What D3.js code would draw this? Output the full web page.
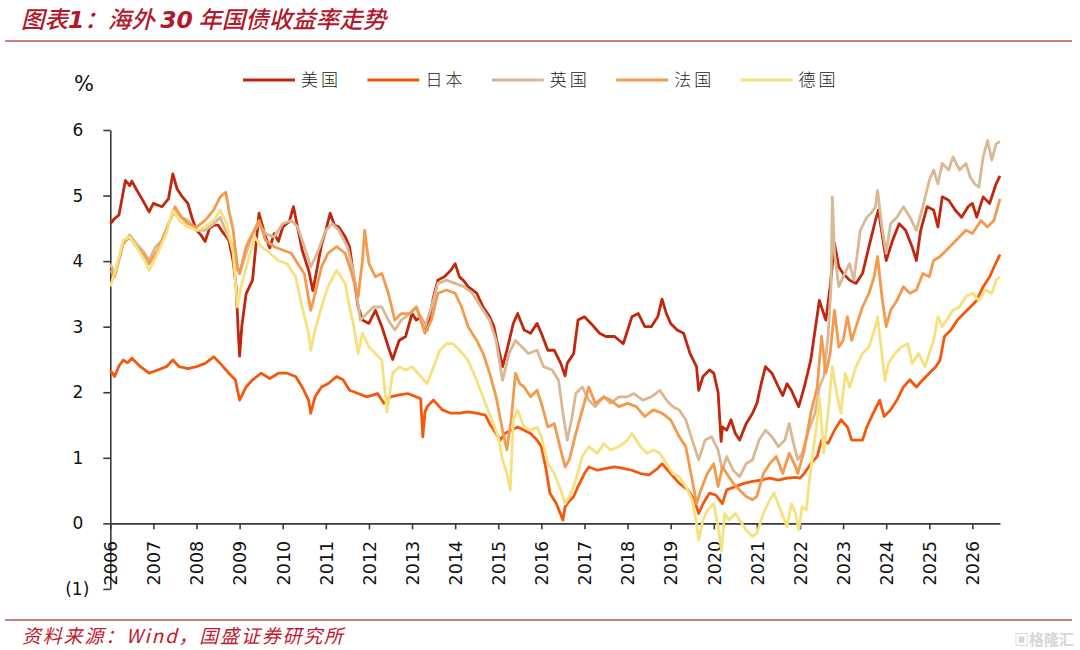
<!DOCTYPE html>
<html>
<head>
<meta charset="utf-8">
<script src="https://cdn.jsdelivr.net/npm/d3@7"></script>
<style>
  body { margin: 0; background: #fff; }
  svg { display: block; }
</style>
</head>
<body>
<script>
// series names and colours, in drawing order
var seriesNames = ["美国", "日本", "英国", "法国", "德国"];
var seriesColors = ["#c1270f", "#f4580d", "#d9b894", "#f39a4d", "#f6e17f"];

// year ticks and y ticks
var yearTicks = d3.range(2006, 2027);
var yTicks = [-1, 0, 1, 2, 3, 4, 5, 6];

// 30y yields, [decimal year, %]
var usYield = [[2006.0,4.57],[2006.1,4.65],[2006.2,4.7],[2006.35,5.23],[2006.45,5.15],[2006.5,5.22],[2006.6,5.1],[2006.75,4.93],[2006.9,4.75],[2007.0,4.88],[2007.2,4.83],[2007.35,4.95],[2007.45,5.33],[2007.55,5.1],[2007.65,5.0],[2007.8,4.88],[2007.9,4.65],[2008.0,4.47],[2008.1,4.4],[2008.2,4.3],[2008.3,4.5],[2008.4,4.55],[2008.5,4.55],[2008.6,4.45],[2008.75,4.32],[2008.85,4.0],[2008.92,3.6],[2008.97,2.9],[2009.0,2.55],[2009.05,3.0],[2009.15,3.5],[2009.3,3.71],[2009.45,4.73],[2009.6,4.37],[2009.7,4.2],[2009.8,4.42],[2009.9,4.3],[2010.0,4.52],[2010.15,4.6],[2010.25,4.83],[2010.35,4.5],[2010.45,4.17],[2010.6,3.86],[2010.7,3.55],[2010.8,3.9],[2010.9,4.25],[2011.0,4.47],[2011.1,4.73],[2011.2,4.55],[2011.3,4.52],[2011.45,4.37],[2011.55,4.22],[2011.65,3.76],[2011.75,3.3],[2011.85,3.1],[2012.0,3.05],[2012.15,3.25],[2012.3,3.0],[2012.45,2.69],[2012.55,2.5],[2012.7,2.79],[2012.85,2.85],[2013.0,3.2],[2013.1,3.1],[2013.2,3.15],[2013.35,2.95],[2013.5,3.46],[2013.6,3.71],[2013.75,3.76],[2013.9,3.86],[2014.0,3.96],[2014.1,3.76],[2014.2,3.7],[2014.3,3.61],[2014.5,3.51],[2014.65,3.3],[2014.8,3.15],[2014.9,3.0],[2015.0,2.69],[2015.1,2.39],[2015.2,2.64],[2015.35,3.05],[2015.45,3.2],[2015.6,2.95],[2015.75,2.9],[2015.9,3.05],[2016.0,2.9],[2016.15,2.64],[2016.3,2.64],[2016.45,2.44],[2016.55,2.25],[2016.6,2.44],[2016.75,2.59],[2016.85,3.1],[2017.0,3.15],[2017.15,3.05],[2017.35,2.9],[2017.5,2.85],[2017.7,2.85],[2017.9,2.74],[2018.1,3.15],[2018.25,3.2],[2018.4,3.0],[2018.55,3.0],[2018.7,3.15],[2018.8,3.42],[2018.9,3.2],[2019.0,3.05],[2019.15,2.95],[2019.3,2.9],[2019.45,2.59],[2019.6,2.39],[2019.65,2.03],[2019.75,2.24],[2019.9,2.34],[2020.0,2.29],[2020.1,2.0],[2020.17,1.25],[2020.2,1.47],[2020.3,1.42],[2020.4,1.58],[2020.5,1.37],[2020.6,1.27],[2020.75,1.52],[2020.9,1.68],[2021.0,1.83],[2021.1,2.13],[2021.2,2.39],[2021.35,2.29],[2021.5,2.08],[2021.6,1.95],[2021.7,2.13],[2021.8,2.03],[2021.9,1.88],[2021.97,1.78],[2022.1,2.08],[2022.25,2.49],[2022.35,2.95],[2022.45,3.4],[2022.6,3.1],[2022.7,3.61],[2022.8,4.27],[2022.9,3.91],[2023.0,3.81],[2023.15,3.71],[2023.3,3.66],[2023.45,3.81],[2023.6,4.22],[2023.75,4.62],[2023.82,4.78],[2023.95,4.22],[2024.0,4.01],[2024.15,4.32],[2024.3,4.57],[2024.45,4.47],[2024.6,4.22],[2024.7,4.01],[2024.8,4.47],[2024.95,4.83],[2025.1,4.78],[2025.2,4.52],[2025.3,4.98],[2025.45,4.93],[2025.6,4.78],[2025.75,4.67],[2025.9,4.83],[2026.0,4.88],[2026.1,4.67],[2026.25,4.98],[2026.4,4.88],[2026.55,5.18],[2026.64,5.3]];

var jpYield = [[2006.0,2.34],[2006.1,2.24],[2006.2,2.4],[2006.3,2.49],[2006.4,2.45],[2006.5,2.52],[2006.7,2.39],[2006.9,2.29],[2007.1,2.34],[2007.3,2.39],[2007.45,2.49],[2007.6,2.39],[2007.8,2.36],[2008.0,2.39],[2008.2,2.44],[2008.4,2.54],[2008.55,2.44],[2008.75,2.29],[2008.9,2.19],[2009.0,1.88],[2009.15,2.08],[2009.3,2.19],[2009.5,2.29],[2009.7,2.21],[2009.9,2.29],[2010.1,2.29],[2010.3,2.24],[2010.45,2.08],[2010.6,1.88],[2010.65,1.68],[2010.75,1.93],[2010.9,2.08],[2011.05,2.13],[2011.25,2.24],[2011.4,2.19],[2011.55,2.03],[2011.75,1.98],[2011.95,1.93],[2012.2,1.98],[2012.35,1.83],[2012.5,1.93],[2012.7,1.96],[2012.9,1.98],[2013.1,1.93],[2013.2,1.9],[2013.25,1.32],[2013.3,1.7],[2013.35,1.78],[2013.5,1.88],[2013.7,1.73],[2013.9,1.68],[2014.1,1.68],[2014.3,1.7],[2014.5,1.68],[2014.7,1.65],[2014.8,1.52],[2014.95,1.37],[2015.05,1.27],[2015.15,1.37],[2015.3,1.42],[2015.45,1.47],[2015.6,1.42],[2015.75,1.37],[2015.9,1.27],[2016.0,1.17],[2016.1,0.86],[2016.2,0.46],[2016.35,0.3],[2016.5,0.05],[2016.55,0.25],[2016.6,0.3],[2016.75,0.41],[2016.85,0.56],[2017.0,0.76],[2017.1,0.86],[2017.3,0.81],[2017.5,0.84],[2017.7,0.86],[2017.9,0.84],[2018.1,0.81],[2018.3,0.76],[2018.5,0.74],[2018.7,0.84],[2018.8,0.91],[2019.0,0.76],[2019.2,0.61],[2019.4,0.51],[2019.55,0.36],[2019.65,0.15],[2019.75,0.3],[2019.9,0.46],[2020.05,0.43],[2020.2,0.3],[2020.3,0.51],[2020.5,0.56],[2020.7,0.61],[2020.9,0.64],[2021.1,0.66],[2021.3,0.69],[2021.5,0.66],[2021.7,0.69],[2021.9,0.7],[2022.0,0.69],[2022.1,0.76],[2022.25,0.91],[2022.4,1.02],[2022.5,1.27],[2022.65,1.22],[2022.8,1.42],[2022.95,1.58],[2023.1,1.47],[2023.2,1.27],[2023.35,1.27],[2023.45,1.27],[2023.55,1.47],[2023.7,1.68],[2023.85,1.88],[2023.95,1.63],[2024.1,1.73],[2024.25,1.88],[2024.4,2.08],[2024.55,2.19],[2024.7,2.08],[2024.85,2.19],[2025.0,2.29],[2025.15,2.39],[2025.25,2.49],[2025.35,2.85],[2025.5,2.95],[2025.65,3.1],[2025.8,3.2],[2025.95,3.3],[2026.1,3.4],[2026.25,3.61],[2026.4,3.76],[2026.5,3.91],[2026.64,4.1]];

var ukYield = [[2006.0,3.96],[2006.1,3.81],[2006.3,4.27],[2006.45,4.4],[2006.6,4.27],[2006.8,4.12],[2006.9,4.01],[2007.05,4.22],[2007.2,4.32],[2007.35,4.57],[2007.5,4.78],[2007.65,4.67],[2007.8,4.62],[2008.0,4.47],[2008.2,4.47],[2008.4,4.57],[2008.55,4.67],[2008.7,4.42],[2008.85,4.22],[2008.95,3.86],[2009.0,3.81],[2009.15,4.12],[2009.3,4.42],[2009.45,4.57],[2009.6,4.42],[2009.8,4.37],[2010.0,4.57],[2010.2,4.62],[2010.35,4.52],[2010.5,4.22],[2010.65,3.91],[2010.8,4.12],[2011.0,4.47],[2011.15,4.57],[2011.3,4.47],[2011.5,4.22],[2011.65,3.81],[2011.8,3.1],[2011.95,3.2],[2012.1,3.3],[2012.3,3.3],[2012.45,3.1],[2012.6,2.95],[2012.75,3.1],[2012.95,3.2],[2013.1,3.3],[2013.3,3.0],[2013.45,3.3],[2013.6,3.66],[2013.8,3.71],[2014.0,3.66],[2014.2,3.61],[2014.4,3.51],[2014.6,3.3],[2014.8,3.1],[2014.95,2.79],[2015.1,2.18],[2015.25,2.59],[2015.4,2.79],[2015.55,2.69],[2015.7,2.59],[2015.9,2.64],[2016.05,2.39],[2016.25,2.34],[2016.4,2.18],[2016.5,1.68],[2016.6,1.27],[2016.7,1.58],[2016.8,1.98],[2016.95,2.08],[2017.1,1.88],[2017.25,1.78],[2017.45,1.93],[2017.6,1.83],[2017.8,1.93],[2018.0,1.93],[2018.15,1.98],[2018.35,1.88],[2018.55,1.93],[2018.75,2.03],[2018.9,1.88],[2019.05,1.78],[2019.2,1.73],[2019.35,1.58],[2019.5,1.27],[2019.65,0.97],[2019.8,1.27],[2019.95,1.32],[2020.1,1.12],[2020.2,0.81],[2020.3,1.02],[2020.45,0.81],[2020.6,0.71],[2020.75,0.91],[2020.9,0.97],[2021.05,1.27],[2021.2,1.42],[2021.35,1.32],[2021.5,1.17],[2021.65,1.27],[2021.75,1.52],[2021.85,1.22],[2021.95,0.97],[2022.05,1.07],[2022.2,1.42],[2022.35,1.68],[2022.45,2.08],[2022.55,2.24],[2022.65,2.85],[2022.72,3.61],[2022.75,4.98],[2022.8,4.12],[2022.9,3.61],[2023.0,3.76],[2023.15,3.96],[2023.25,3.71],[2023.4,4.47],[2023.55,4.67],[2023.65,4.73],[2023.75,4.83],[2023.8,5.08],[2023.9,4.52],[2024.0,4.12],[2024.1,4.57],[2024.25,4.67],[2024.4,4.83],[2024.55,4.67],[2024.7,4.47],[2024.85,4.83],[2025.0,5.23],[2025.1,5.39],[2025.2,5.18],[2025.3,5.49],[2025.45,5.39],[2025.55,5.59],[2025.7,5.39],[2025.85,5.49],[2025.95,5.28],[2026.05,5.18],[2026.15,5.13],[2026.25,5.59],[2026.35,5.84],[2026.45,5.54],[2026.55,5.79],[2026.64,5.82]];

var frYield = [[2006.0,3.86],[2006.1,3.76],[2006.3,4.27],[2006.45,4.37],[2006.6,4.22],[2006.8,4.07],[2006.9,3.96],[2007.1,4.17],[2007.3,4.47],[2007.5,4.83],[2007.65,4.67],[2007.8,4.57],[2008.0,4.52],[2008.2,4.62],[2008.4,4.78],[2008.55,4.98],[2008.68,5.05],[2008.75,4.78],[2008.85,4.47],[2008.95,3.91],[2009.0,3.81],[2009.15,4.22],[2009.3,4.42],[2009.45,4.62],[2009.6,4.32],[2009.8,4.22],[2010.0,4.17],[2010.2,4.12],[2010.35,3.96],[2010.5,3.81],[2010.65,3.25],[2010.75,3.5],[2010.9,3.91],[2011.05,4.12],[2011.25,4.22],[2011.45,4.12],[2011.6,3.81],[2011.75,3.46],[2011.85,4.01],[2011.9,4.47],[2012.0,3.96],[2012.15,3.76],[2012.3,3.81],[2012.45,3.51],[2012.6,3.1],[2012.75,3.2],[2012.95,3.2],[2013.1,3.3],[2013.3,2.9],[2013.45,3.1],[2013.6,3.51],[2013.8,3.56],[2014.0,3.51],[2014.15,3.3],[2014.3,3.0],[2014.5,2.79],[2014.65,2.59],[2014.8,2.29],[2014.95,1.93],[2015.1,1.42],[2015.2,1.12],[2015.3,1.58],[2015.4,2.29],[2015.5,2.13],[2015.6,2.08],[2015.75,1.93],[2015.9,2.03],[2016.0,1.83],[2016.15,1.47],[2016.3,1.52],[2016.45,1.12],[2016.55,0.86],[2016.65,0.97],[2016.8,1.37],[2016.95,1.73],[2017.1,2.08],[2017.25,1.83],[2017.45,1.93],[2017.6,1.88],[2017.8,1.78],[2018.0,1.83],[2018.2,1.78],[2018.4,1.63],[2018.6,1.73],[2018.8,1.68],[2019.0,1.58],[2019.2,1.32],[2019.35,1.17],[2019.5,0.66],[2019.6,0.3],[2019.7,0.51],[2019.85,0.76],[2020.0,0.91],[2020.1,0.56],[2020.2,0.86],[2020.3,0.76],[2020.45,0.61],[2020.6,0.51],[2020.75,0.41],[2020.9,0.36],[2021.0,0.41],[2021.15,0.76],[2021.3,0.91],[2021.45,1.02],[2021.6,0.76],[2021.75,1.07],[2021.9,0.86],[2021.95,0.76],[2022.1,1.12],[2022.25,1.68],[2022.4,2.08],[2022.5,2.85],[2022.6,2.29],[2022.7,2.59],[2022.8,3.25],[2022.9,2.69],[2023.0,2.79],[2023.1,3.15],[2023.2,2.79],[2023.3,3.0],[2023.45,3.3],[2023.6,3.51],[2023.72,3.76],[2023.8,4.07],[2023.9,3.46],[2024.0,3.0],[2024.1,3.25],[2024.25,3.4],[2024.4,3.61],[2024.55,3.51],[2024.7,3.56],[2024.85,3.81],[2025.0,3.76],[2025.1,4.01],[2025.25,4.07],[2025.4,4.17],[2025.55,4.27],[2025.7,4.37],[2025.85,4.47],[2026.0,4.42],[2026.1,4.52],[2026.2,4.62],[2026.35,4.52],[2026.5,4.62],[2026.64,4.95]];

var deYield = [[2006.0,3.61],[2006.1,3.81],[2006.3,4.32],[2006.45,4.37],[2006.6,4.22],[2006.8,4.01],[2006.9,3.86],[2007.1,4.12],[2007.3,4.42],[2007.45,4.78],[2007.6,4.62],[2007.8,4.52],[2008.0,4.47],[2008.2,4.52],[2008.4,4.62],[2008.55,4.78],[2008.7,4.57],[2008.85,4.12],[2008.95,3.3],[2009.05,3.66],[2009.2,4.01],[2009.35,4.37],[2009.5,4.22],[2009.7,4.12],[2009.9,4.01],[2010.1,3.96],[2010.3,3.76],[2010.45,3.3],[2010.6,2.9],[2010.65,2.64],[2010.75,2.95],[2010.9,3.3],[2011.05,3.61],[2011.25,3.86],[2011.45,3.66],[2011.55,3.3],[2011.65,3.0],[2011.75,2.59],[2011.85,2.9],[2012.0,2.69],[2012.15,2.59],[2012.3,2.49],[2012.42,1.7],[2012.55,2.29],[2012.7,2.39],[2012.85,2.34],[2013.0,2.39],[2013.2,2.24],[2013.35,2.13],[2013.5,2.39],[2013.65,2.64],[2013.8,2.74],[2013.95,2.74],[2014.1,2.64],[2014.3,2.49],[2014.5,2.18],[2014.7,1.83],[2014.85,1.58],[2015.0,1.32],[2015.1,0.97],[2015.2,0.76],[2015.28,0.51],[2015.35,1.58],[2015.45,1.73],[2015.6,1.47],[2015.75,1.42],[2015.9,1.47],[2016.0,1.32],[2016.15,0.91],[2016.3,0.76],[2016.45,0.51],[2016.55,0.3],[2016.65,0.41],[2016.8,0.66],[2016.95,1.02],[2017.1,1.17],[2017.3,1.07],[2017.45,1.22],[2017.6,1.12],[2017.8,1.17],[2018.0,1.27],[2018.1,1.37],[2018.3,1.17],[2018.45,1.07],[2018.6,1.12],[2018.75,1.07],[2018.9,0.91],[2019.05,0.76],[2019.2,0.71],[2019.35,0.56],[2019.5,0.36],[2019.6,0.0],[2019.65,-0.25],[2019.75,0.05],[2019.85,0.2],[2020.0,0.3],[2020.1,-0.05],[2020.18,-0.42],[2020.25,0.15],[2020.35,0.05],[2020.5,0.15],[2020.6,0.05],[2020.75,-0.1],[2020.9,-0.2],[2021.0,-0.15],[2021.15,0.15],[2021.3,0.36],[2021.4,0.46],[2021.55,0.2],[2021.7,-0.05],[2021.8,0.3],[2021.9,0.15],[2021.97,-0.1],[2022.05,0.25],[2022.15,0.2],[2022.2,0.56],[2022.3,1.07],[2022.4,1.58],[2022.45,1.93],[2022.55,1.07],[2022.65,1.68],[2022.75,2.39],[2022.85,1.98],[2022.95,1.68],[2023.05,2.29],[2023.15,2.08],[2023.3,2.39],[2023.45,2.59],[2023.6,2.69],[2023.75,3.0],[2023.8,3.15],[2023.9,2.59],[2023.97,2.18],[2024.05,2.44],[2024.2,2.59],[2024.35,2.69],[2024.5,2.74],[2024.6,2.44],[2024.75,2.59],[2024.9,2.39],[2025.0,2.59],[2025.1,2.79],[2025.2,3.15],[2025.3,3.0],[2025.4,3.1],[2025.55,3.25],[2025.7,3.3],[2025.85,3.46],[2026.0,3.51],[2026.15,3.4],[2026.3,3.56],[2026.45,3.51],[2026.55,3.71],[2026.64,3.76]];

var allSeries = [usYield, jpYield, ukYield, frYield, deYield];

// canvas
var width = 1080, height = 650;
var svg = d3.select("body").append("svg").attr("width", width).attr("height", height);
svg.append("rect").attr("width", width).attr("height", height).attr("fill", "#fff");

// title + rule (digits set in a latin bold face, like the original)
var title = svg.append("text").attr("x", 21).attr("y", 28)
    .attr("font-family", "'Noto Sans CJK SC', sans-serif")
    .attr("font-size", 23.5).attr("font-style", "italic").attr("font-weight", 500)
    .attr("fill", "#b3172c");
title.append("tspan").text("图表");
title.append("tspan").attr("font-family", "'DejaVu Sans', Verdana, sans-serif")
    .attr("font-weight", "bold").text("1");
title.append("tspan").text("：海外 ");
title.append("tspan").attr("font-family", "'DejaVu Sans', Verdana, sans-serif")
    .attr("font-weight", "bold").text("30");
title.append("tspan").text(" 年国债收益率走势");
svg.append("line").attr("x1", 5).attr("x2", 1072).attr("y1", 41).attr("y2", 41)
    .attr("stroke", "#c0505a").attr("stroke-width", 1.6);

// footer + rule
svg.append("line").attr("x1", 5).attr("x2", 1072).attr("y1", 620).attr("y2", 620)
    .attr("stroke", "#b8555a").attr("stroke-width", 1.6);
svg.append("text").attr("x", 22).attr("y", 643)
    .attr("font-family", "'Noto Sans CJK SC', sans-serif")
    .attr("font-size", 19).attr("font-style", "italic").attr("letter-spacing", 1.8)
    .attr("fill", "#c2182e")
    .text("资料来源：Wind，国盛证券研究所");

// faint watermark
svg.append("text").attr("x", 1074).attr("y", 645).attr("text-anchor", "end")
    .attr("font-family", "'Noto Sans CJK SC', sans-serif")
    .attr("font-size", 15).attr("font-weight", "bold")
    .attr("fill", "#d6d6d6").text("▣格隆汇");

// scales
var x = d3.scaleLinear().domain([2006, 2026.64]).range([110.3, 1000]);
var y = d3.scaleLinear().domain([-1, 6]).range([588.9, 130]);

// y axis
var yAxis = d3.axisLeft(y).tickValues(yTicks).tickSize(7).tickSizeOuter(0)
    .tickFormat(function(d) { return d < 0 ? "(" + (-d) + ")" : d; });
var gy = svg.append("g").attr("transform", "translate(110.3,0)").call(yAxis);
gy.selectAll("text")
    .attr("x", function(d) { return d < 0 ? -21 : -27; })
    .attr("font-family", "'DejaVu Sans', Verdana, sans-serif")
    .attr("font-size", 17).attr("fill", "#111");

// x axis on the zero line
var xAxis = d3.axisBottom(x).tickValues(yearTicks).tickSize(6).tickSizeOuter(0)
    .tickFormat(d3.format("d"));
var gx = svg.append("g").attr("transform", "translate(0," + y(0) + ")").call(xAxis);
gx.selectAll("text")
    .attr("transform", "rotate(-90)")
    .attr("x", -17.5).attr("y", 0).attr("dy", "0.36em")
    .attr("text-anchor", "end")
    .attr("font-family", "'DejaVu Sans', Verdana, sans-serif")
    .attr("font-size", 17.5).attr("fill", "#111");

[gx, gy].forEach(function(g) {
    g.select(".domain").attr("stroke", "#3a3a3a").attr("stroke-width", 1.6);
    g.selectAll(".tick line").attr("stroke", "#3a3a3a").attr("stroke-width", 1.6);
});

// unit
svg.append("text").attr("x", 84).attr("y", 91).attr("text-anchor", "middle")
    .attr("font-family", "'DejaVu Sans', Verdana, sans-serif")
    .attr("font-size", 21).attr("fill", "#111").text("%");

// lines
var line = d3.line()
    .x(function(d) { return x(d[0]); })
    .y(function(d) { return y(d[1]); });

svg.append("g").selectAll("path").data(allSeries).enter()
    .append("path")
    .attr("d", line)
    .attr("fill", "none")
    .attr("stroke", function(d, i) { return seriesColors[i]; })
    .attr("stroke-width", 2.8)
    .attr("stroke-linejoin", "round");

// legend
var legend = svg.append("g").selectAll("g").data(seriesNames).enter()
    .append("g")
    .attr("transform", function(d, i) { return "translate(" + (243 + i * 124.4) + ",80)"; });
legend.append("line").attr("x1", 0).attr("x2", 52).attr("y1", 0).attr("y2", 0)
    .attr("stroke", function(d, i) { return seriesColors[i]; })
    .attr("stroke-width", 3);
legend.append("text").attr("x", 58).attr("y", 0).attr("dy", "0.36em")
    .attr("font-family", "'Noto Sans CJK SC', sans-serif")
    .attr("font-size", 17).attr("font-weight", 300).attr("letter-spacing", 3)
    .attr("fill", "#222")
    .text(function(d) { return d; });
</script>
</body>
</html>
